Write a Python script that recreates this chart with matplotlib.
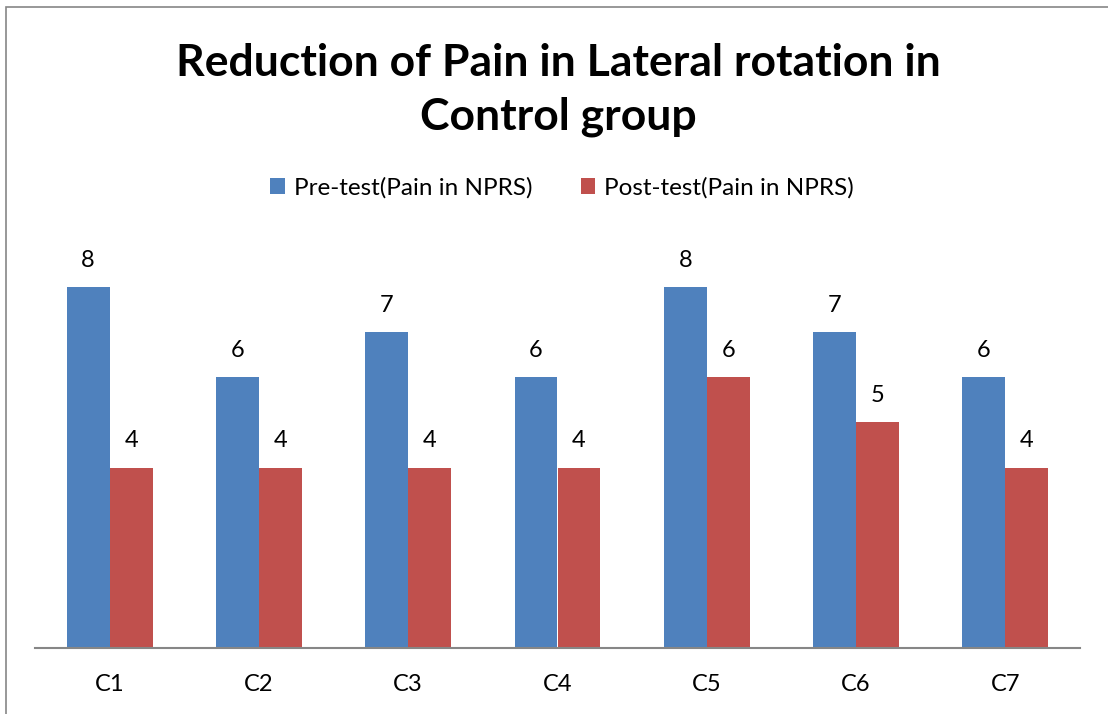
import matplotlib
matplotlib.use('Agg')
import matplotlib.pyplot as plt
import numpy as np
from matplotlib.patches import Rectangle

categories = ['C1', 'C2', 'C3', 'C4', 'C5', 'C6', 'C7']
pre_test = [8, 6, 7, 6, 8, 7, 6]
post_test = [4, 4, 4, 4, 6, 5, 4]
series_names = ['Pre-test(Pain in NPRS)', 'Post-test(Pain in NPRS)']
title = 'Reduction of Pain in Lateral rotation in\nControl group'

plt.rcParams['font.family'] = ['Lato', 'DejaVu Sans']

blue = '#4F81BD'
red = '#C0504D'

W, H = 1108, 714
fig = plt.figure(figsize=(W / 100, H / 100), dpi=100)

# outer chart border
fig.add_artist(Rectangle((6 / W, -0.01), 1.1, (H - 7) / H + 0.01, transform=fig.transFigure,
                         fill=False, edgecolor='#868686', linewidth=1.2))

ax = fig.add_axes([35 / W, 66 / H, 1045 / W, 406 / H])
x = np.arange(len(categories))
w = 0.288
b1 = ax.bar(x - w / 2, pre_test, w, color=blue, label=series_names[0])
b2 = ax.bar(x + w / 2, post_test, w, color=red, label=series_names[1])

for bars, vals in ((b1, pre_test), (b2, post_test)):
    for r, v in zip(bars, vals):
        ax.annotate(str(v), (r.get_x() + r.get_width() / 2, v), xytext=(0, 27),
                    textcoords='offset pixels', ha='center', va='center', fontsize=17)

ax.set_xlim(-0.5, len(categories) - 0.5)
ax.set_ylim(0, 9)
ax.set_yticks([])
ax.set_xticks(x)
ax.set_xticklabels(categories, fontsize=17)
ax.tick_params(axis='x', length=0, pad=19)
for s in ['top', 'right', 'left']:
    ax.spines[s].set_visible(False)
ax.spines['bottom'].set_color('#868686')
ax.spines['bottom'].set_linewidth(1.5)

fig.text(558 / W, 1 - 90 / H, title, ha='center', va='center', fontsize=32,
         fontweight='bold', linespacing=1.42)

fig.legend(handles=[b1, b2], loc='center', bbox_to_anchor=(562 / W, 1 - 188 / H),
           ncol=2, frameon=False, fontsize=17.5, handlelength=0.6, handleheight=0.6,
           handletextpad=0.35, columnspacing=2.0)

fig.savefig('out.png', dpi=100)
